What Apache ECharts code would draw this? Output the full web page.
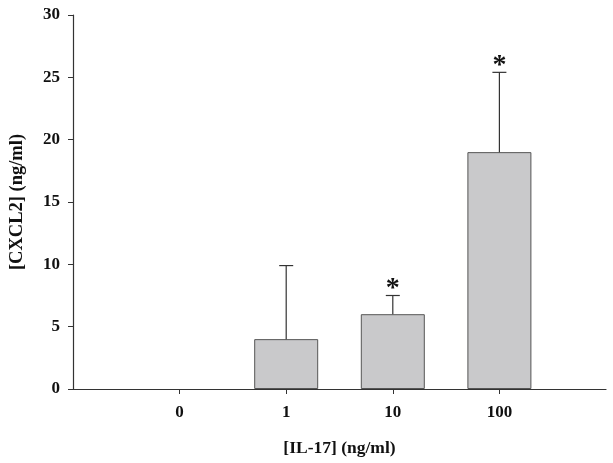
<!DOCTYPE html>
<html>
<head>
<meta charset="utf-8">
<script src="https://cdn.jsdelivr.net/npm/echarts@6/dist/echarts.min.js"></script>
<style>
  html, body { margin: 0; padding: 0; background: #fff; }
  #main { width: 613px; height: 463px; }
</style>
</head>
<body>
<div id="main"></div>
<script>
// IL-17 doses and CXCL2 response
const categories = ['0', '1', '10', '100'];
const means = [0, 4.0, 6.0, 19.0];
const errUpper = [0, 9.9, 7.5, 25.4];
const significant = [false, false, true, true];
const yTicks = [0, 5, 10, 15, 20, 25, 30];

// pad with empty slots on both ends so the axis runs past the bars
const xData = [''].concat(categories, ['']);
const barData = [null].concat(means.map(v => ({
  value: v,
  itemStyle: v === 0 ? { borderWidth: 0 } : {}
})), [null]);
const errData = categories.map((c, i) => [i + 1, means[i], errUpper[i], significant[i] ? 1 : 0]);

const font = '"Liberation Serif", "DejaVu Serif", serif';
const chart = echarts.init(document.getElementById('main'));

chart.setOption({
  animation: false,
  backgroundColor: '#fff',
  grid: { left: 71, right: 7, top: 15, bottom: 74 },
  xAxis: {
    type: 'category',
    data: xData,
    boundaryGap: false,
    name: '[IL-17] (ng/ml)',
    nameLocation: 'middle',
    nameGap: 50,
    nameTextStyle: { fontFamily: font, fontWeight: 'bold', fontSize: 17.5, color: '#111' },
    axisLine: { lineStyle: { color: '#333', width: 1.2 } },
    axisTick: {
      length: 5,
      interval: (idx, val) => val !== '',
      lineStyle: { color: '#333' }
    },
    axisLabel: {
      interval: (idx, val) => val !== '',
      margin: 15,
      fontFamily: font, fontWeight: 'bold', fontSize: 17, color: '#111'
    },
    splitLine: { show: false }
  },
  yAxis: {
    type: 'value',
    min: yTicks[0],
    max: yTicks[yTicks.length - 1],
    interval: 5,
    name: '[CXCL2] (ng/ml)',
    nameLocation: 'middle',
    nameGap: 46,
    nameTextStyle: { fontFamily: font, fontWeight: 'bold', fontSize: 18.5, color: '#111' },
    axisLine: { show: true, lineStyle: { color: '#333', width: 1.2 } },
    axisTick: { show: true, length: 5, lineStyle: { color: '#333' } },
    axisLabel: { margin: 13, fontFamily: font, fontWeight: 'bold', fontSize: 17, color: '#111' },
    splitLine: { show: false }
  },
  series: [
    {
      type: 'bar',
      data: barData,
      barWidth: 64,
      itemStyle: { color: '#c9c9cb', borderColor: '#555', borderWidth: 1 }
    },
    {
      type: 'custom',
      data: errData,
      z: 3,
      renderItem: function (params, api) {
        const base = api.coord([api.value(0), api.value(1)]);
        const top = api.coord([api.value(0), api.value(2)]);
        const half = 7;
        const children = [];
        if (api.value(2) > api.value(1)) {
          children.push({
            type: 'line',
            shape: { x1: base[0], y1: base[1], x2: top[0], y2: top[1] },
            style: { stroke: '#333', lineWidth: 1.2 }
          });
          children.push({
            type: 'line',
            shape: { x1: top[0] - half, y1: top[1], x2: top[0] + half, y2: top[1] },
            style: { stroke: '#333', lineWidth: 1.2 }
          });
        }
        if (api.value(3)) {
          children.push({
            type: 'text',
            style: {
              text: '*',
              x: top[0], y: top[1] + 7,
              align: 'center', verticalAlign: 'bottom',
              font: 'bold 28px ' + font,
              fill: '#111'
            }
          });
        }
        return { type: 'group', children: children };
      }
    }
  ]
});
</script>
</body>
</html>
